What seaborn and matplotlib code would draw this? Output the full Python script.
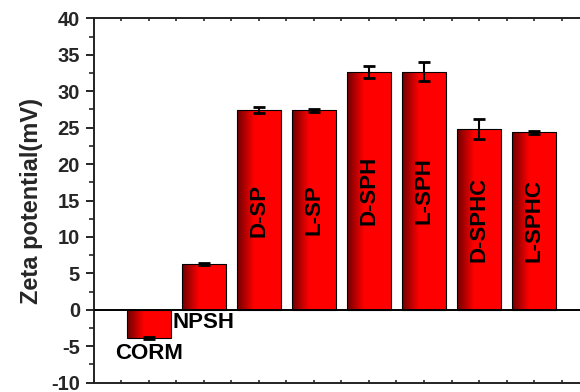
import numpy as np
import pandas as pd
import matplotlib
matplotlib.use("Agg")
import matplotlib.pyplot as plt
from matplotlib.colors import LinearSegmentedColormap
from matplotlib.ticker import MultipleLocator, NullFormatter
import seaborn as sns

# Zeta potential measurements (mV) with standard deviations
samples = ["CORM", "NPSH", "D-SP", "L-SP", "D-SPH", "L-SPH", "D-SPHC", "L-SPHC"]
zeta_mv = [-3.85, 6.3, 27.4, 27.4, 32.65, 32.7, 24.8, 24.4]
zeta_sd = [0.15, 0.15, 0.45, 0.2, 0.78, 1.28, 1.35, 0.2]

sns.set_style("ticks")
plt.rcParams["font.family"] = ["Liberation Sans", "DejaVu Sans"]
plt.rcParams["font.weight"] = "bold"
plt.rcParams["axes.unicode_minus"] = False

df = pd.DataFrame({"sample": samples, "zeta": zeta_mv})

fig = plt.figure(figsize=(5.8, 3.92), dpi=100)
ax = fig.add_axes([0.162, 0.024, 0.838, 0.929])

sns.barplot(data=df, x="sample", y="zeta", ax=ax, color="red", width=0.8,
            edgecolor="black", linewidth=0.8, errorbar=None, saturation=1)

xlim = (-1, 7.836)
ylim = (-10, 40)

# dark-to-bright horizontal gradient clipped to each bar
grad_cmap = LinearSegmentedColormap.from_list(
    "barshade", [(0.0, "#6e0000"), (0.38, "#ff0000"), (1.0, "#ff0000")])
grad = np.linspace(0, 1, 256).reshape(1, -1)
for patch in ax.patches:
    x0, y0 = patch.get_x(), patch.get_y()
    w, h = patch.get_width(), patch.get_height()
    y_lo, y_hi = min(y0, y0 + h), max(y0, y0 + h)
    im = ax.imshow(grad, cmap=grad_cmap, aspect="auto",
                   extent=(x0, x0 + w, y_lo, y_hi), zorder=patch.get_zorder(),
                   interpolation="bilinear")
    im.set_clip_path(patch)
    patch.set_facecolor("none")
    patch.set_zorder(patch.get_zorder() + 0.1)

positions = np.arange(len(samples))
ax.errorbar(positions, zeta_mv, yerr=zeta_sd, fmt="none", ecolor="black",
            elinewidth=1.5, capsize=4, capthick=2, zorder=5)

ax.axhline(0, color="black", lw=1.4, zorder=4)

label_kw = dict(fontsize=16, fontweight="bold", color="black", zorder=6)
# labels beneath the short bars
ax.text(positions[0], -6.0, samples[0], ha="center", va="center", **label_kw)
ax.text(positions[1], -1.7, samples[1], ha="center", va="center", **label_kw)
# vertical labels inside the tall bars
for pos, name, val in zip(positions[2:], samples[2:], zeta_mv[2:]):
    ax.text(pos, val * 0.5, name, ha="center", va="center", rotation=90,
            **label_kw)

ax.set_xlim(*xlim)
ax.set_ylim(*ylim)
ax.set_xlabel("")
ax.set_ylabel("Zeta potential(mV)", fontsize=17, fontweight="bold", labelpad=6)

ax.set_xticks(np.arange(-1, 7.9, 0.5))
ax.xaxis.set_major_formatter(NullFormatter())
ax.tick_params(axis="x", direction="in", length=2.5, width=1.2, top=True,
               bottom=True, labelbottom=False)

ax.yaxis.set_major_locator(MultipleLocator(5))
ax.yaxis.set_minor_locator(MultipleLocator(2.5))
ax.tick_params(axis="y", which="major", direction="out", length=6, width=1.4,
               labelsize=14.5, pad=4)
ax.tick_params(axis="y", which="minor", direction="out", length=3.5, width=1.2)
for lab in ax.get_yticklabels():
    lab.set_fontweight("bold")

for side in ["left", "bottom", "top"]:
    ax.spines[side].set_visible(True)
    ax.spines[side].set_linewidth(1.4)
    ax.spines[side].set_color("#222222")
ax.spines["right"].set_visible(False)

fig.savefig("out.png", dpi=100)
